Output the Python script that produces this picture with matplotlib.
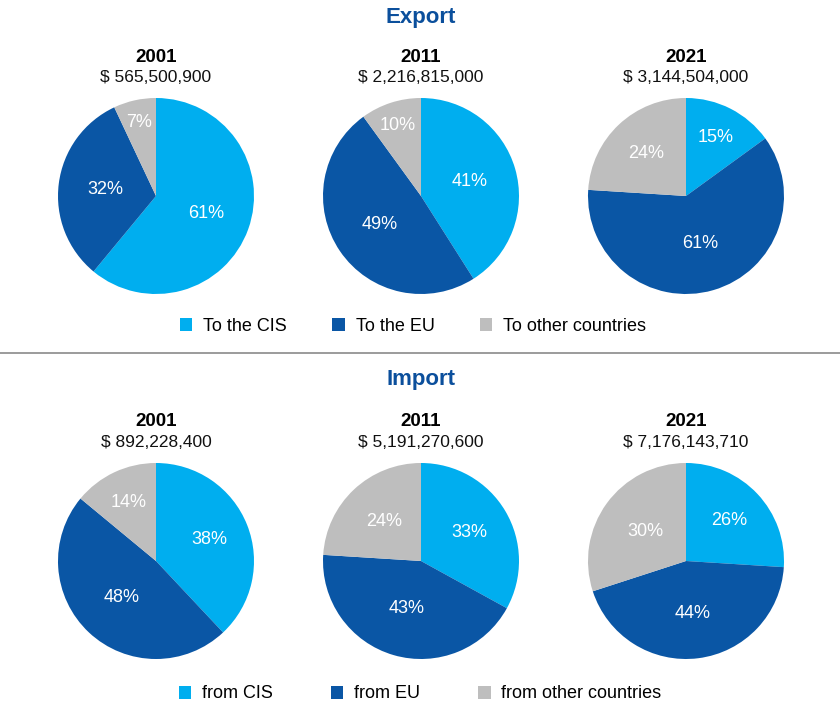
import matplotlib
matplotlib.use("Agg")
import numpy as np
import matplotlib.pyplot as plt
from matplotlib.lines import Line2D

years = ["2001", "2011", "2021"]
export_totals = ["$ 565,500,900", "$ 2,216,815,000", "$ 3,144,504,000"]
import_totals = ["$ 892,228,400", "$ 5,191,270,600", "$ 7,176,143,710"]
# shares: CIS, EU, other
export_cis = [61, 41, 15]
export_eu = [32, 49, 61]
export_other = [7, 10, 24]
import_cis = [38, 33, 26]
import_eu = [48, 43, 44]
import_other = [14, 24, 30]
export_labels = ["To the CIS", "To the EU", "To other countries"]
import_labels = ["from CIS", "from EU", "from other countries"]

# label radial distances (layout only)
export_ld = [[0.54, 0.52, 0.77], [0.52, 0.51, 0.76], [0.67, 0.51, 0.59]]
import_ld = [[0.59, 0.51, 0.66], [0.57, 0.51, 0.55], [0.61, 0.54, 0.51]]

colors = ["#00AEEF", "#0A56A5", "#BEBEBE"]
title_color = "#0B4F9C"
FONT = ["Liberation Sans", "DejaVu Sans"]
plt.rcParams["font.family"] = FONT

W, H = 840, 716
fig = plt.figure(figsize=(W / 100, H / 100), dpi=100)

R = 98
centers_x = [156, 421, 686]


def px_axes(cx, cy, r):
    return fig.add_axes([(cx - r) / W, 1 - (cy + r) / H, 2 * r / W, 2 * r / H])


def section(cy, year_y, amt_y, totals, cis, eu, oth, lds):
    wedges_out = None
    for i in range(3):
        ax = px_axes(centers_x[i], cy, R)
        vals = [cis[i], eu[i], oth[i]]
        wedges, texts = ax.pie(vals, colors=colors, startangle=90, counterclock=False,
                               labels=[f"{v}%" for v in vals], labeldistance=0.55,
                               radius=1.0, wedgeprops=dict(linewidth=0),
                               textprops=dict(color="white", fontsize=13, family=FONT))
        for w, t, d in zip(wedges, texts, lds[i]):
            th = np.deg2rad((w.theta1 + w.theta2) / 2)
            t.set_position((d * np.cos(th), d * np.sin(th)))
            t.set_ha("center")
            t.set_va("center")
        ax.set_xlim(-1, 1)
        ax.set_ylim(-1, 1)
        ax.set_aspect("equal")
        ax.axis("off")
        fig.text(centers_x[i] / W, 1 - year_y / H, years[i], ha="center", va="center",
                 fontsize=13.5, fontweight="bold", color="black")
        fig.text(centers_x[i] / W, 1 - amt_y / H, totals[i], ha="center", va="center",
                 fontsize=12.5, color="#111111")
        wedges_out = wedges
    return wedges_out


w1 = section(196, 57, 77, export_totals, export_cis, export_eu, export_other, export_ld)
w2 = section(561, 422, 442, import_totals, import_cis, import_eu, import_other, import_ld)

fig.text(421 / W, 1 - 18 / H, "Export", ha="center", va="center", fontsize=16,
         fontweight="bold", color=title_color)
fig.text(421 / W, 1 - 379 / H, "Import", ha="center", va="center", fontsize=16,
         fontweight="bold", color=title_color)

fig.add_artist(Line2D([0, 1], [1 - 353 / H, 1 - 353 / H], color="#8A8A8A", linewidth=1.2,
                      transform=fig.transFigure))

for wedges, labels, ly, lx, cs in [(w1, export_labels, 326, 413, 2.5),
                                   (w2, import_labels, 694, 420, 3.2)]:
    fig.legend(wedges, labels, loc="center", bbox_to_anchor=(lx / W, 1 - ly / H),
               ncol=3, frameon=False, fontsize=13, handlelength=0.7, handleheight=0.7,
               handletextpad=0.6, columnspacing=cs, borderpad=0)

fig.savefig("out.png", dpi=100, facecolor="white")
